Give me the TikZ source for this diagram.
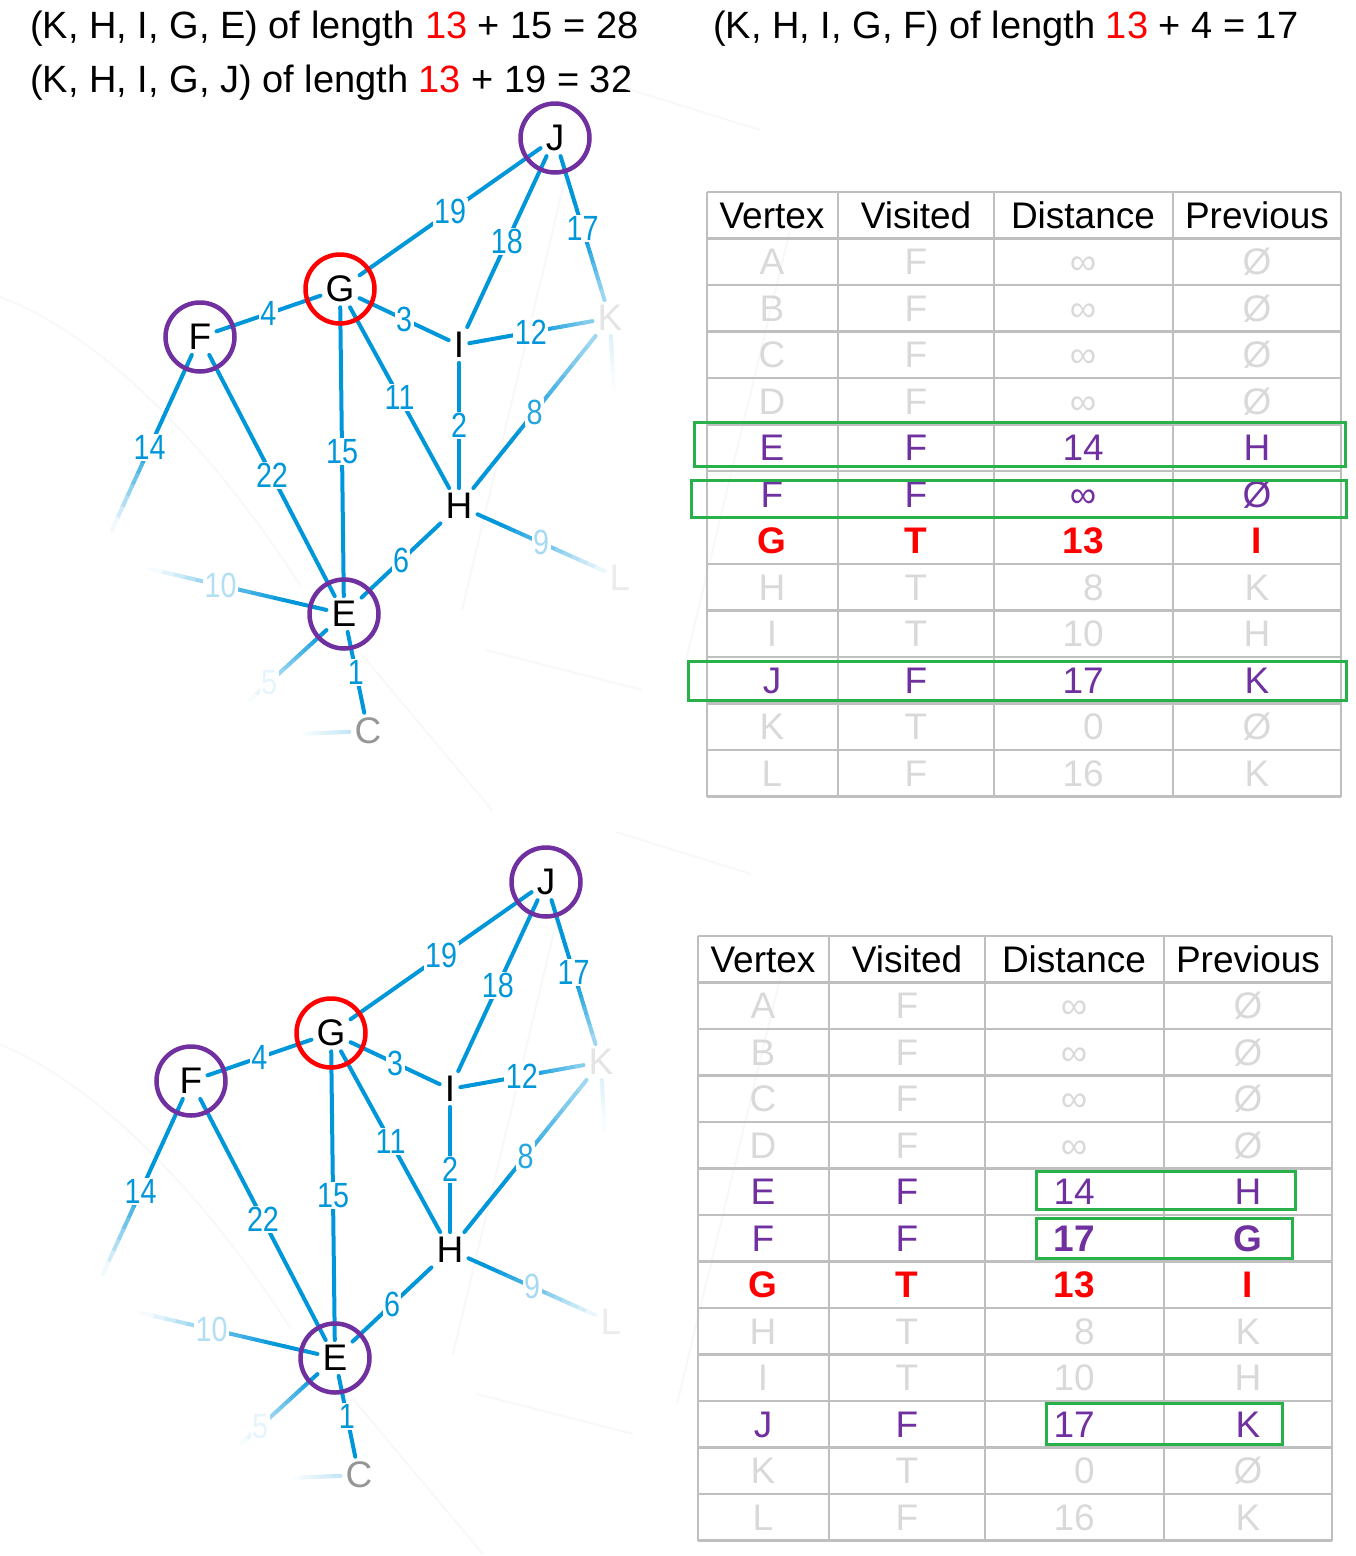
\documentclass[tikz,border=0pt]{standalone}
\usepackage{fontspec}
\usepackage{graphicx}
\setmainfont{Liberation Sans}
\usetikzlibrary{calc}
\definecolor{eblue}{RGB}{0,150,218}
\definecolor{vpurple}{RGB}{112,48,160}
\definecolor{vred}{RGB}{255,0,0}
\definecolor{bgreen}{RGB}{40,176,75}
\definecolor{tgridc}{RGB}{191,191,191}
\definecolor{tfaint}{RGB}{217,217,217}
\definecolor{ghost}{RGB}{248,248,248}
\definecolor{kgray}{RGB}{228,228,228}
\definecolor{lgray}{RGB}{236,236,236}
\definecolor{cgray}{RGB}{150,150,150}
\newcommand\nar[1]{\scalebox{0.82}[1]{#1}}
\tikzset{
  hdr/.style={font=\fontsize{38}{46}\selectfont, anchor=base west, inner sep=0pt},
  vlet/.style={font=\fontsize{37}{44}\selectfont, inner sep=5pt},
  ring/.style={circle, draw, line width=4.5pt, minimum size=69pt, inner sep=0pt},
  edge/.style={line width=4pt, line cap=round, draw=eblue},
  ghostline/.style={line width=2pt, draw=ghost},
  wlab/.style={font=\fontsize{35}{42}\selectfont, fill=white, inner sep=1.5pt, text=eblue},
  tline/.style={draw=tgridc, line width=2.5pt},
  tcell/.style={font=\fontsize{37}{44}\selectfont, inner sep=0pt, anchor=base},
  thead/.style={tcell, text=black},
  tgray/.style={tcell, text=tfaint},
  tpur/.style={tcell, text=vpurple},
  tpurb/.style={tcell, text=vpurple, font=\fontsize{37}{44}\selectfont\bfseries},
  tred/.style={tcell, text=vred, font=\fontsize{37}{44}\selectfont\bfseries},
  gbox/.style={draw=bgreen, line width=3pt},
}
% faded connector: from, to, t0, start%, end%
\newcommand\fadeline[5]{%
  \path (#1) -- (#2) coordinate[pos=0] (fs) coordinate[pos=1] (fe);
  \foreach \k in {0,...,15}{%
    \pgfmathsetmacro\fadeT{(\k+0.5)/16}%
    \pgfmathtruncatemacro\fadeP{\fadeT<#3 ? #4 : #4+(#5-#4)*(\fadeT-#3)/(1-#3)}%
    \draw[edge, draw=eblue!\fadeP!white] ($(fs)!\k/16!(fe)$) -- ($(fs)!{(\k+1)/16}!(fe)$);
  }%
}
\newcommand\graphdraw{%
  % very faint background strokes
  \coordinate (g1) at (566,175); \coordinate (g2) at (462,610);
  \draw[ghostline] (g1) -- (g2);
  \coordinate (g3) at (0,297); \coordinate (g4) at (300,585);
  \draw[ghostline] (g3) .. controls (90,330) and (200,430) .. (g4);
  \coordinate (g5) at (362,655); \coordinate (g6) at (492,810);
  \draw[ghostline] (g5) -- (g6);
  \coordinate (g7) at (486,650); \coordinate (g8) at (642,690);
  \draw[ghostline] (g7) -- (g8);
  \coordinate (g9) at (625,88); \coordinate (g10) at (760,130);
  \draw[ghostline] (g9) -- (g10);
  \coordinate (g11) at (792,222); \coordinate (g12) at (686,660);
  \draw[ghostline] (g11) -- (g12);
  % vertices
  \node[vlet] (J) at (555,138) {J};
  \node[vlet] (G) at (340,289) {G};
  \node[vlet] (F) at (200,337) {F};
  \node[vlet] (I) at (459,345) {I};
  \node[vlet] (H) at (459,506) {H};
  \node[vlet] (E) at (344,614) {E};
  \node[vlet, text=cgray] (C) at (368,731) {C};
  \node[vlet, text=kgray] (K) at (610,318) {K};
  \node[vlet, text=lgray] (L) at (620,578) {L};
  \coordinate (Aend) at (112,530);
  \coordinate (Bend) at (150,569);
  \coordinate (Dend) at (250,700);
  \coordinate (Wend) at (298,734);
  \coordinate (KLend) at (614,395);
  % faded connectors
  \fadeline{K}{KLend}{0}{14}{0}
  \fadeline{J}{K}{0.55}{100}{35}
  \fadeline{I}{K}{0.55}{100}{45}
  \fadeline{H}{K}{0.35}{100}{35}
  \fadeline{H}{L}{0.2}{100}{5}
  \fadeline{F}{Aend}{0.5}{100}{0}
  \fadeline{E}{Bend}{0.25}{100}{0}
  \fadeline{E}{Dend}{0.05}{100}{0}
  \fadeline{C}{Wend}{0}{25}{0}
  \path (J) -- (K) node[wlab, pos=.5] (l17) {\nar{17}};
  \path (I) -- (K) node[wlab, pos=.5] (l12) {\nar{12}};
  \path (H) -- (K) node[wlab, pos=.5, text=eblue!85!white] (l8) {\nar{8}};
  \path (H) -- (L) node[wlab, pos=.5, text=eblue!35!white] (l9) {\nar{9}};
  \path (F) -- (Aend) node[wlab, pos=.53] (l14) {\nar{14}};
  \path (E) -- (Bend) node[wlab, pos=.6, text=eblue!30!white] (l10) {\nar{10}};
  \path (E) -- (Dend) node[wlab, pos=.75, text=eblue!10!white] (l5) {\nar{5}};
  % full connectors
  \draw[edge] (G) -- (J) node[wlab, pos=.5] (l19) {\nar{19}};
  \draw[edge] (I) -- (J) node[wlab, pos=.5] (l18) {\nar{18}};
  \draw[edge] (F) -- (G) node[wlab, pos=.5] (l4) {\nar{4}};
  \draw[edge] (G) -- (I) node[wlab, pos=.5] (l3) {\nar{3}};
  \draw[edge] (G) -- (H) node[wlab, pos=.5] (l11) {\nar{11}};
  \draw[edge] (I) -- (H) node[wlab, pos=.5] (l2) {\nar{2}};
  \draw[edge] (G) -- (E) node[wlab, pos=.5] (l15) {\nar{15}};
  \draw[edge] (F) -- (E) node[wlab, pos=.5] (l22) {\nar{22}};
  \draw[edge] (H) -- (E) node[wlab, pos=.5] (l6) {\nar{6}};
  \draw[edge] (E) -- (C) node[wlab, pos=.5] (l1) {\nar{1}};
  % rings
  \node[ring, draw=vpurple] (Jr) at (J.center) {};
  \node[ring, draw=vred] (Gr) at (G.center) {};
  \node[ring, draw=vpurple] (Fr) at (F.center) {};
  \node[ring, draw=vpurple] (Er) at (E.center) {};
}
\newcommand\tgridlines{%
  \foreach \r in {0,...,13} \draw[tline] (707,{192+46.5*\r}) -- (1341,{192+46.5*\r});
  \foreach \c in {707,838,994,1173,1341} \draw[tline] (\c,192) -- (\c,797);
}
\newcommand\trow[9]{%
  \pgfmathsetmacro\rowy{192+46.5*#1+23.25+13.2}%
  \node[#2] (v#1) at (772,\rowy) {#3};
  \node[#2] (s#1) at (916,\rowy) {#4};
  \node[#5] (d#1) at (#6,\rowy) {#7};
  \node[#8] (p#1) at (1257,\rowy) {#9};
}
\newcommand\tablecommon{%
  \trow{0}{thead}{Vertex}{Visited}{thead}{1083}{Distance}{thead}{Previous}
  \trow{1}{tgray}{A}{F}{tgray}{1083}{∞}{tgray}{Ø}
  \trow{2}{tgray}{B}{F}{tgray}{1083}{∞}{tgray}{Ø}
  \trow{3}{tgray}{C}{F}{tgray}{1083}{∞}{tgray}{Ø}
  \trow{4}{tgray}{D}{F}{tgray}{1083}{∞}{tgray}{Ø}
  \trow{5}{tpur}{E}{F}{tpur,anchor=base east}{1104}{14}{tpur}{H}
  \trow{7}{tred}{G}{T}{tred,anchor=base east}{1104}{13}{tred}{I}
  \trow{8}{tgray}{H}{T}{tgray,anchor=base east}{1104}{8}{tgray}{K}
  \trow{9}{tgray}{I}{T}{tgray,anchor=base east}{1104}{10}{tgray}{H}
  \trow{10}{tpur}{J}{F}{tpur,anchor=base east}{1104}{17}{tpur}{K}
  \trow{11}{tgray}{K}{T}{tgray,anchor=base east}{1104}{0}{tgray}{Ø}
  \trow{12}{tgray}{L}{F}{tgray,anchor=base east}{1104}{16}{tgray}{K}
}
\begin{document}
\begin{tikzpicture}[x=1pt, y=-1pt]
  \useasboundingbox (0,0) rectangle (1356,1556);
  \node[hdr] (h1) at (30,38) {(K, H, I, G, E) of length \textcolor{vred}{13} + 15 = 28};
  \node[hdr] (h2) at (30,92) {(K, H, I, G, J) of length \textcolor{vred}{13} + 19 = 32};
  \node[hdr] (h3) at (713,38) {(K, H, I, G, F) of length \textcolor{vred}{13} + 4 = 17};
  \begin{scope}[name prefix=t-]
    \graphdraw
    \tgridlines
    \tablecommon
    \trow{6}{tpur}{F}{F}{tpur}{1083}{∞}{tpur}{Ø}
  \end{scope}
  \begin{scope}[shift={(-9,744)}, name prefix=b-]
    \graphdraw
    \tgridlines
    \tablecommon
    \trow{6}{tpur}{F}{F}{tpurb,anchor=base east}{1104}{17}{tpurb}{G}
  \end{scope}
  % highlight boxes
  \draw[gbox] (694,422) rectangle (1345,466);
  \draw[gbox] (691,480) rectangle (1346,517);
  \draw[gbox] (688,661) rectangle (1346,700);
  \draw[gbox] (1036,1171) rectangle (1295,1209);
  \draw[gbox] (1036,1218) rectangle (1292,1258);
  \draw[gbox] (1046,1403) rectangle (1282,1444);
\end{tikzpicture}
\end{document}
